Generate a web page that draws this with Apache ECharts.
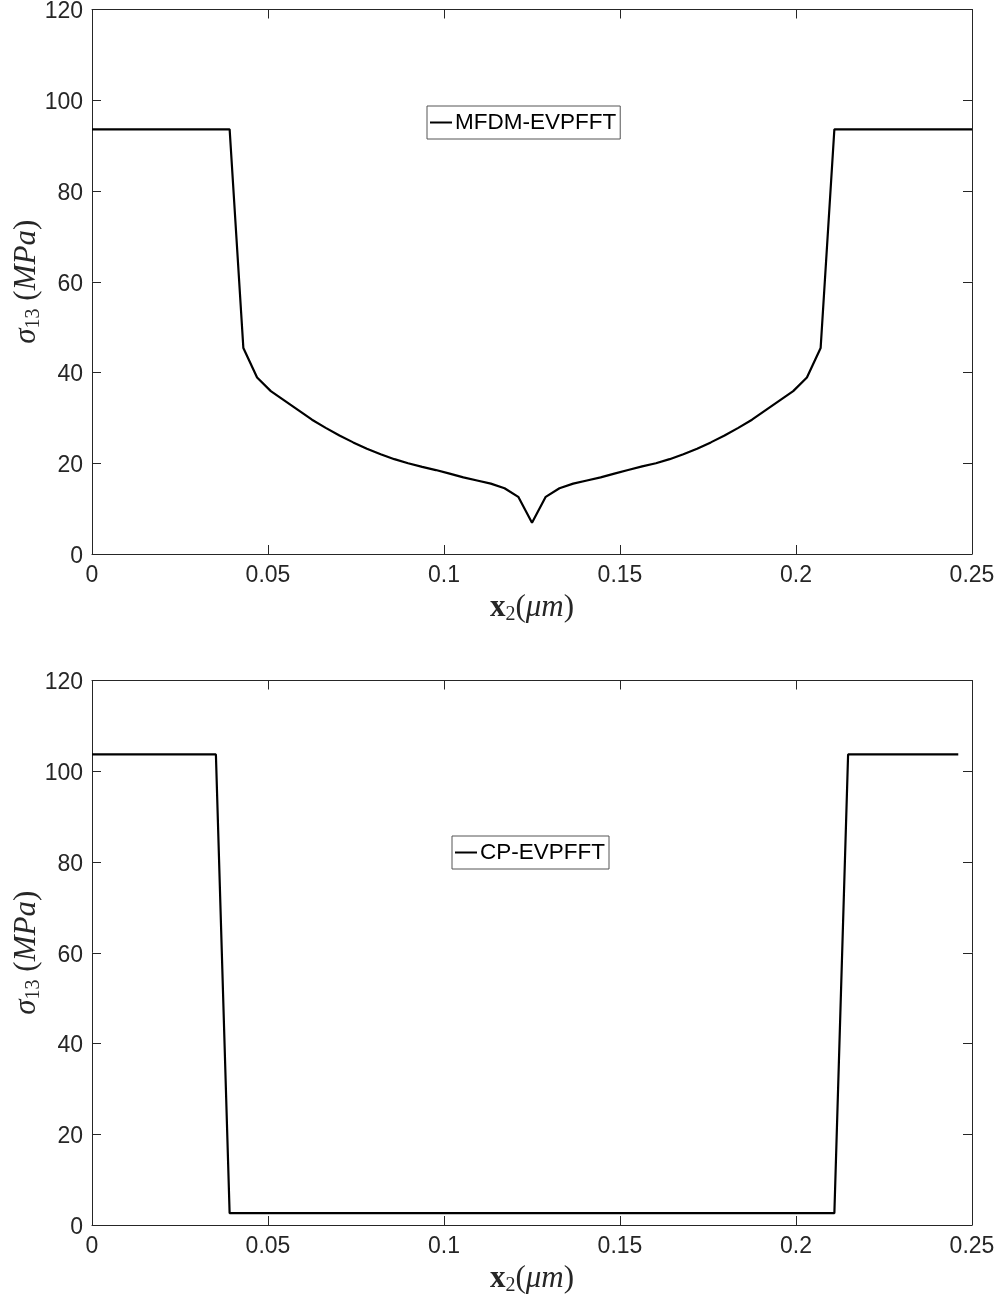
<!DOCTYPE html>
<html><head><meta charset="utf-8">
<script src="https://cdn.jsdelivr.net/npm/echarts@6/dist/echarts.min.js"></script>
<style>html,body{margin:0;padding:0;background:#fff}#c{width:1005px;height:1298px}</style>
</head><body><div id="c"></div>
<script>
// x2 positions (um), top panel grid (65 pts)
const xTop = [0, 0.0039, 0.0078, 0.0117, 0.0156, 0.0195, 0.0234, 0.0273, 0.0313, 0.0352,
  0.0391, 0.0430, 0.0469, 0.0508, 0.0547, 0.0586, 0.0625, 0.0664, 0.0703, 0.0742,
  0.0781, 0.0820, 0.0859, 0.0898, 0.0938, 0.0977, 0.1016, 0.1055, 0.1094, 0.1133,
  0.1172, 0.1211, 0.125, 0.1289, 0.1328, 0.1367, 0.1406, 0.1445, 0.1484, 0.1523,
  0.1563, 0.1602, 0.1641, 0.1680, 0.1719, 0.1758, 0.1797, 0.1836, 0.1875, 0.1914,
  0.1953, 0.1992, 0.2031, 0.2070, 0.2109, 0.2148, 0.2188, 0.2227, 0.2266, 0.2305,
  0.2344, 0.2383, 0.2422, 0.2461, 0.25];
const sigmaMFDM = [93.6, 93.6, 93.6, 93.6, 93.6, 93.6, 93.6, 93.6, 93.6, 93.6,
  93.6, 45.4, 38.9, 35.9, 33.8, 31.7, 29.6, 27.8, 26.1, 24.6,
  23.2, 22.0, 20.9, 20.0, 19.2, 18.5, 17.7, 16.9, 16.2, 15.5,
  14.5, 12.6, 6.9, 12.6, 14.5, 15.5, 16.2, 16.9, 17.7, 18.5,
  19.3, 20.0, 20.9, 22.0, 23.2, 24.6, 26.1, 27.8, 29.6, 31.7,
  33.8, 35.9, 38.9, 45.4, 93.6, 93.6, 93.6, 93.6, 93.6, 93.6,
  93.6, 93.6, 93.6, 93.6, 93.6];
// bottom panel grid (64 pts)
const xBottom = [0, 0.0039, 0.0078, 0.0117, 0.0156, 0.0195, 0.0234, 0.0273, 0.0313, 0.0352,
  0.0391, 0.0430, 0.0469, 0.0508, 0.0547, 0.0586, 0.0625, 0.0664, 0.0703, 0.0742,
  0.0781, 0.0820, 0.0859, 0.0898, 0.0938, 0.0977, 0.1016, 0.1055, 0.1094, 0.1133,
  0.1172, 0.1211, 0.125, 0.1289, 0.1328, 0.1367, 0.1406, 0.1445, 0.1484, 0.1523,
  0.1563, 0.1602, 0.1641, 0.1680, 0.1719, 0.1758, 0.1797, 0.1836, 0.1875, 0.1914,
  0.1953, 0.1992, 0.2031, 0.2070, 0.2109, 0.2148, 0.2188, 0.2227, 0.2266, 0.2305,
  0.2344, 0.2383, 0.2422, 0.2461];
const sigmaCP = [103.7, 103.7, 103.7, 103.7, 103.7, 103.7, 103.7, 103.7, 103.7, 103.7,
  2.6, 2.6, 2.6, 2.6, 2.6, 2.6, 2.6, 2.6, 2.6, 2.6,
  2.6, 2.6, 2.6, 2.6, 2.6, 2.6, 2.6, 2.6, 2.6, 2.6,
  2.6, 2.6, 2.6, 2.6, 2.6, 2.6, 2.6, 2.6, 2.6, 2.6,
  2.6, 2.6, 2.6, 2.6, 2.6, 2.6, 2.6, 2.6, 2.6, 2.6,
  2.6, 2.6, 2.6, 2.6, 2.6, 103.7, 103.7, 103.7, 103.7, 103.7,
  103.7, 103.7, 103.7, 103.7];
const seriesNames = ['MFDM-EVPFFT', 'CP-EVPFFT'];
const xMin = 0, xMax = 0.25, xStep = 0.05;
const yMin = 0, yMax = 120, yStep = 20;

const AX = '#262626';
const tickFont = {color: AX, fontSize: 23, fontFamily: 'Liberation Sans'};
const serif = 'Liberation Serif';
const xName = '{b|x}{s|2}{n|(}{i|μm}{n|)}';
const yName = '{i|σ}{s|13}{n| (}{i|MPa}{n|)}';
const richStyle = {
  b: {fontFamily: serif, fontWeight: 'bold', fontSize: 31, color: AX, lineHeight: 34, verticalAlign: 'middle'},
  n: {fontFamily: serif, fontSize: 31, color: AX, lineHeight: 34, verticalAlign: 'middle'},
  i: {fontFamily: serif, fontStyle: 'italic', fontSize: 31, color: AX, lineHeight: 34, verticalAlign: 'middle'},
  s: {fontFamily: serif, fontSize: 20, color: AX, lineHeight: 19, verticalAlign: 'bottom'}
};

function xAx(grid, pos, labels) {
  return {
    type: 'value', gridIndex: grid, position: pos, min: xMin, max: xMax, interval: xStep,
    axisLine: {show: true, onZero: false, lineStyle: {color: AX, width: 1}},
    axisTick: {show: true, inside: true, length: 9, lineStyle: {color: AX}},
    axisLabel: {show: labels, margin: 10, ...tickFont},
    splitLine: {show: false},
    name: labels ? xName : '', nameLocation: 'middle', nameGap: 37, nameMoveOverlap: false,
    nameTextStyle: {rich: richStyle}
  };
}
function yAx(grid, pos, labels) {
  return {
    type: 'value', gridIndex: grid, position: pos, min: yMin, max: yMax, interval: yStep,
    axisLine: {show: true, onZero: false, lineStyle: {color: AX, width: 1}},
    axisTick: {show: true, inside: true, length: 9, lineStyle: {color: AX}},
    axisLabel: {show: labels, margin: 9, ...tickFont,
      formatter: '{v|{value}}',
      rich: {v: {...tickFont, padding: [5, 0, 0, 0]}}},
    splitLine: {show: false},
    name: labels ? yName : '', nameLocation: 'middle', nameGap: 48, nameRotate: 90, nameMoveOverlap: false,
    nameTextStyle: {rich: richStyle}
  };
}

const legendBase = {
  orient: 'horizontal', backgroundColor: '#fff', borderColor: '#555', borderWidth: 1,
  padding: [5, 4, 5, 3], itemWidth: 22, itemHeight: 2, icon: 'rect',
  itemStyle: {color: '#000'},
  textStyle: {color: '#000', fontSize: 22.5, fontFamily: 'Liberation Sans', padding: [0, 0, 0, -2]}
};

const chart = echarts.init(document.getElementById('c'));
chart.setOption({
  animation: false,
  backgroundColor: '#fff',
  grid: [
    {left: 92, right: 33, top: 9.5, height: 544.5, outerBoundsMode: 'none', containLabel: false},
    {left: 92, right: 33, top: 680.5, height: 544.5, outerBoundsMode: 'none', containLabel: false}
  ],
  xAxis: [xAx(0, 'bottom', true), xAx(1, 'bottom', true), xAx(0, 'top', false), xAx(1, 'top', false)],
  yAxis: [yAx(0, 'left', true), yAx(1, 'left', true), yAx(0, 'right', false), yAx(1, 'right', false)],
  legend: [
    {...legendBase, data: [seriesNames[0]], left: 427, top: 106},
    {...legendBase, data: [seriesNames[1]], left: 452, top: 836}
  ],
  series: [
    {type: 'line', name: seriesNames[0], xAxisIndex: 0, yAxisIndex: 0, symbol: 'none',
     data: xTop.map((x, i) => [x, sigmaMFDM[i]]),
     lineStyle: {color: '#000', width: 2.2}, itemStyle: {color: '#000'}},
    {type: 'line', name: seriesNames[1], xAxisIndex: 1, yAxisIndex: 1, symbol: 'none',
     data: xBottom.map((x, i) => [x, sigmaCP[i]]),
     lineStyle: {color: '#000', width: 2.2}, itemStyle: {color: '#000'}}
  ]
});
</script></body></html>
